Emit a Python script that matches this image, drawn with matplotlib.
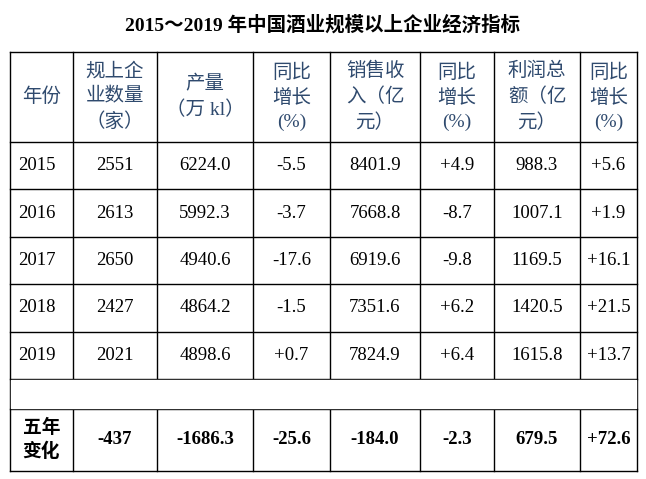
import matplotlib
matplotlib.use("Agg")
import matplotlib.pyplot as plt

title = "2015～2019 年中国酒业规模以上企业经济指标"
headers = ["年份", "规上企\n业数量\n（家）", "产量\n（万 kl）", "同比\n增长\n(%)", "销售收\n入（亿\n元）", "同比\n增长\n(%)", "利润总\n额（亿\n元）", "同比\n增长\n(%)"]
years = ["2015", "2016", "2017", "2018", "2019"]
firms = ["2551", "2613", "2650", "2427", "2021"]
output = ["6224.0", "5992.3", "4940.6", "4864.2", "4898.6"]
output_g = ["-5.5", "-3.7", "-17.6", "-1.5", "+0.7"]
sales = ["8401.9", "7668.8", "6919.6", "7351.6", "7824.9"]
sales_g = ["+4.9", "-8.7", "-9.8", "+6.2", "+6.4"]
profit = ["988.3", "1007.1", "1169.5", "1420.5", "1615.8"]
profit_g = ["+5.6", "+1.9", "+16.1", "+21.5", "+13.7"]
summary = ["五年\n变化", "-437", "-1686.3", "-25.6", "-184.0", "-2.3", "679.5", "+72.6"]

fam = ["Liberation Serif", "Noto Sans CJK SC", "DejaVu Sans"]
fig = plt.figure(figsize=(6.46, 4.79), dpi=100)
ax = fig.add_axes([0, 0, 1, 1])
ax.set_xlim(0, 646); ax.set_ylim(479, 0); ax.axis("off")

xs = [10, 73, 157, 253, 330, 420, 494, 580, 637]
ys = [52, 142, 189, 237, 284, 332, 379, 409, 471]

for x in xs:
    ax.plot([x, x], [ys[0], ys[-1]], color="black", lw=1)
for y in ys:
    ax.plot([xs[0], xs[-1]], [y, y], color="black", lw=1)
ax.fill_between([xs[0]+1, xs[-1]-1], ys[6]+1, ys[7]-1, color="white", zorder=3)

ax.text(323, 25, title, ha="center", va="center", fontsize=14, fontweight="bold", family=fam)

hc = "#2F4A6E"
for i, h in enumerate(headers):
    cx = (xs[i] + xs[i+1]) / 2
    ax.text(cx, (ys[0]+ys[1])/2, h, ha="center", va="center", fontsize=14,
            color=hc, family=fam, linespacing=1.5, zorder=4)

cols = [years, firms, output, output_g, sales, sales_g, profit, profit_g]
for r in range(5):
    cy = (ys[r+1] + ys[r+2]) / 2
    for c, col in enumerate(cols):
        cx = (xs[c] + xs[c+1]) / 2
        if c == 0:
            ax.text(xs[0]+8, cy, col[r], ha="left", va="center", fontsize=13.5, family=fam, zorder=4)
        else:
            ax.text(cx, cy, col[r], ha="center", va="center", fontsize=13.5, family=fam, zorder=4)

cy = (ys[7] + ys[8]) / 2
for c, s in enumerate(summary):
    cx = (xs[c] + xs[c+1]) / 2
    ax.text(cx, cy, s, ha="center", va="center", fontsize=13.5, fontweight="bold",
            family=fam, linespacing=1.4, zorder=4)

fig.savefig("out.png", dpi=100)
